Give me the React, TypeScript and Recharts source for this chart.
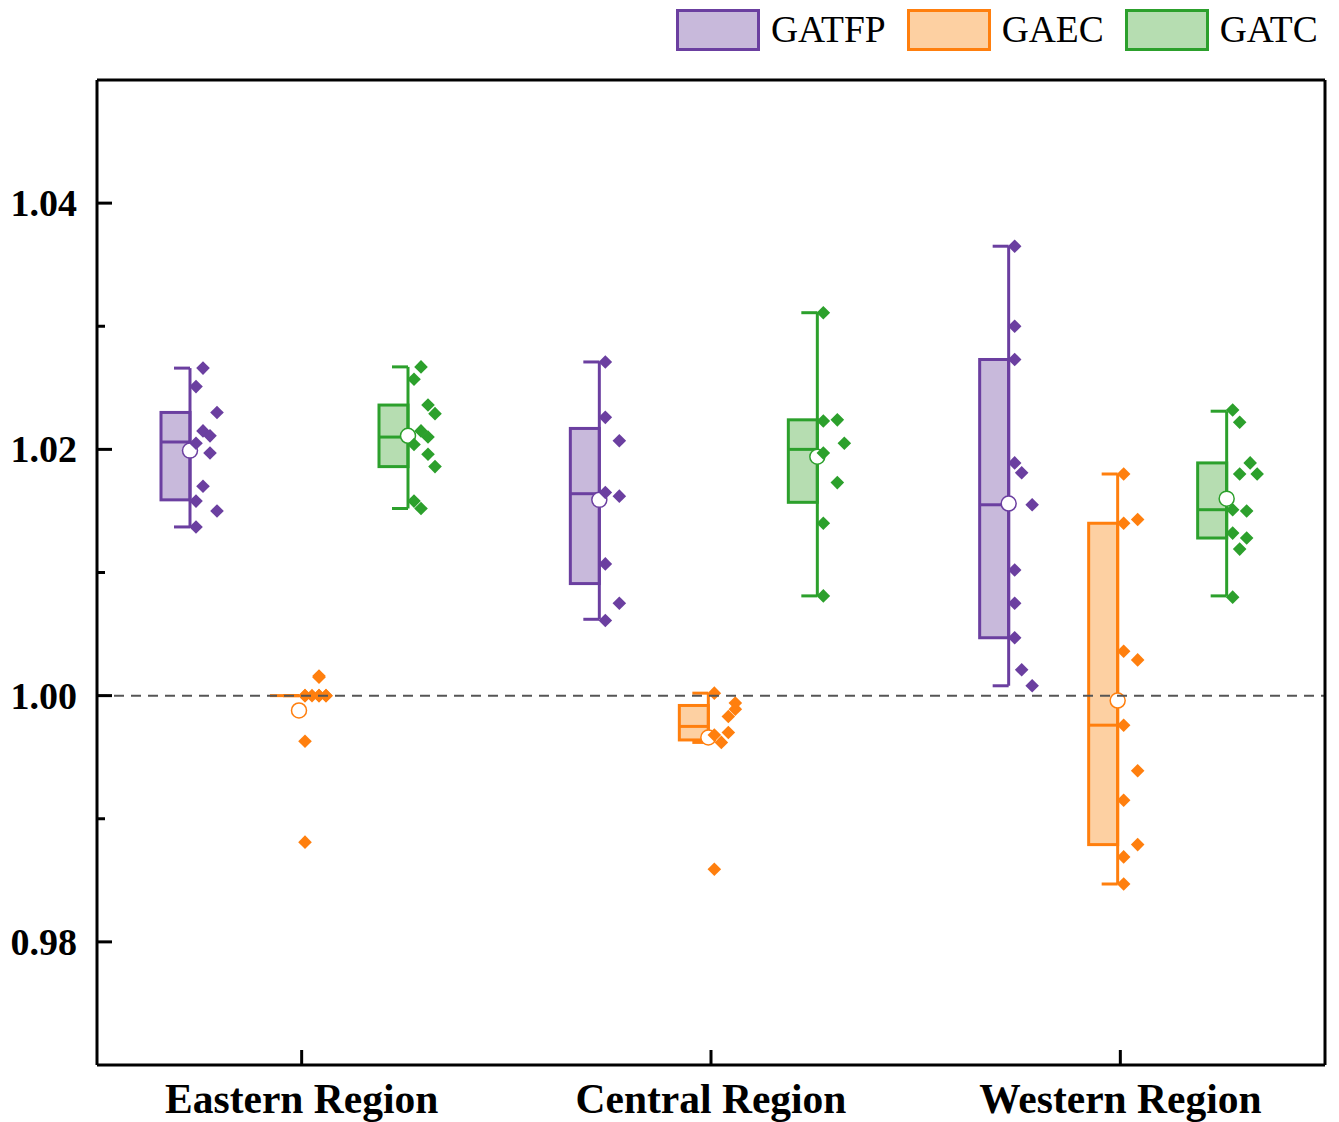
import React from 'react';
import { ComposedChart, Bar, XAxis, YAxis, ReferenceLine, Legend } from 'recharts';

const REGIONS = ['Eastern Region', 'Central Region', 'Western Region'];
const SERIES = ['GATFP', 'GAEC', 'GATC'];
const Y_TICKS = [0.98, 0.99, 1.0, 1.01, 1.02, 1.03, 1.04];

// box statistics per region: [min, q1, median, q3, max]
const GATFP_BOX = [
  [1.0137, 1.0159, 1.0206, 1.023, 1.0266],
  [1.0062, 1.0091, 1.0164, 1.0217, 1.0271],
  [1.0008, 1.0047, 1.0155, 1.0273, 1.0365],
];
const GAEC_BOX = [
  [1.0, 1.0, 1.0, 1.0, 1.0],
  [0.9962, 0.9964, 0.9975, 0.9992, 1.0002],
  [0.9847, 0.9879, 0.9976, 1.014, 1.018],
];
const GATC_BOX = [
  [1.0152, 1.0186, 1.021, 1.0236, 1.0267],
  [1.0081, 1.0157, 1.02, 1.0224, 1.0311],
  [1.0081, 1.0128, 1.0151, 1.0189, 1.0231],
];

const GATFP_MEAN = [1.0199, 1.0159, 1.0156];
const GAEC_MEAN = [0.9988, 0.9966, 0.9996];
const GATC_MEAN = [1.0211, 1.0194, 1.016];

// raw points per region
const GATFP_POINTS = [
  [1.0266, 1.0251, 1.023, 1.0215, 1.0211, 1.0205, 1.0197, 1.017, 1.0158, 1.015, 1.0137],
  [1.0271, 1.0226, 1.0207, 1.0165, 1.0162, 1.0107, 1.0075, 1.0061],
  [1.0365, 1.03, 1.0273, 1.0189, 1.0181, 1.0155, 1.0102, 1.0075, 1.0047, 1.0021, 1.0008],
];
const GATFP_LANES = [
  [1, 0, 3, 1, 2, 0, 2, 1, 0, 3, 0],
  [0, 0, 2, 0, 2, 0, 2, 0],
  [0, 0, 0, 0, 1, 2.5, 0, 0, 0, 1, 2.5],
];
const GAEC_POINTS = [
  [1.0016, 1.0015, 1.0, 1.0, 1.0, 1.0, 1.0, 1.0, 1.0, 0.9963, 0.9881],
  [1.0002, 0.9994, 0.9989, 0.9983, 0.997, 0.9968, 0.9962, 0.9859],
  [1.018, 1.014, 1.0143, 1.0036, 1.0029, 0.9976, 0.9939, 0.9915, 0.9879, 0.9869, 0.9847],
];
const GAEC_LANES = [
  [2, 2, 0, 1, 2, 3, 0, 2, 3, 0, 0],
  [0, 3, 3, 2, 2, 0, 1, 0],
  [0, 0, 2, 0, 2, 0, 2, 0, 2, 0, 0],
];
const GATC_POINTS = [
  [1.0267, 1.0257, 1.0236, 1.0229, 1.0215, 1.021, 1.0204, 1.0196, 1.0186, 1.0158, 1.0152],
  [1.0311, 1.0223, 1.0224, 1.0205, 1.0197, 1.0173, 1.014, 1.0081],
  [1.0232, 1.0222, 1.0189, 1.018, 1.018, 1.0151, 1.015, 1.0132, 1.0128, 1.0119, 1.008],
];
const GATC_LANES = [
  [1, 0, 2, 3, 1, 2, 0, 2, 3, 0, 1],
  [0, 0, 2, 3, 0, 2, 0, 0],
  [0, 1, 2.5, 1, 3.5, 0, 2, 0, 2, 1, 0],
];

const BOXES: Record<string, number[][]> = { GATFP: GATFP_BOX, GAEC: GAEC_BOX, GATC: GATC_BOX };
const MEANS: Record<string, number[]> = { GATFP: GATFP_MEAN, GAEC: GAEC_MEAN, GATC: GATC_MEAN };
const POINTS: Record<string, number[][]> = { GATFP: GATFP_POINTS, GAEC: GAEC_POINTS, GATC: GATC_POINTS };
const LANES: Record<string, number[][]> = { GATFP: GATFP_LANES, GAEC: GAEC_LANES, GATC: GATC_LANES };

const EDGE: Record<string, string> = { GATFP: '#6B3FA0', GAEC: '#FF7F0E', GATC: '#2CA02C' };
const FILL: Record<string, string> = { GATFP: '#C8B9DB', GAEC: '#FDD0A2', GATC: '#B6DDB1' };

const FONT = "'Liberation Serif', 'Times New Roman', serif";

const data = REGIONS.map((region, i) => {
  const row: any = { region };
  SERIES.forEach((s) => {
    const vals = [...BOXES[s][i], ...POINTS[s][i], MEANS[s][i]];
    row[s] = [Math.min(...vals), Math.max(...vals)];
  });
  return row;
});

function makeShape(series: string) {
  return (props: any) => {
    const { x, y, width, height, payload } = props;
    const i = REGIONS.indexOf(payload.region);
    const [lo, hi] = payload[series];
    const top = Math.min(y, y + height);
    const bot = Math.max(y, y + height);
    const toPx = (v: number) => (hi === lo ? top : top + ((hi - v) / (hi - lo)) * (bot - top));
    const wx = x + width / 2 - 3;
    const [mn, q1, md, q3, mx] = BOXES[series][i];
    const edge = EDGE[series];
    const boxW = 29;
    const pts = POINTS[series][i];
    const lanes = LANES[series][i];
    const r = 6.8;
    return (
      <g>
        <rect
          x={wx - boxW}
          y={toPx(q3)}
          width={boxW}
          height={Math.max(0, toPx(q1) - toPx(q3))}
          fill={FILL[series]}
          stroke={edge}
          strokeWidth={3}
        />
        <line x1={wx} x2={wx} y1={toPx(mx)} y2={toPx(mn)} stroke={edge} strokeWidth={3} />
        <line x1={wx - 16} x2={wx} y1={toPx(mx)} y2={toPx(mx)} stroke={edge} strokeWidth={3} />
        <line x1={wx - 16} x2={wx} y1={toPx(mn)} y2={toPx(mn)} stroke={edge} strokeWidth={3} />
        <line x1={wx - boxW} x2={wx} y1={toPx(md)} y2={toPx(md)} stroke={edge} strokeWidth={3} />
        <circle cx={wx} cy={toPx(MEANS[series][i])} r={7.5} fill="#fff" stroke={edge} strokeWidth={1.5} />
        {pts.map((v, k) => {
          const cx = wx + 6 + 7 * lanes[k];
          const cy = toPx(v);
          return (
            <polygon
              key={k}
              points={`${cx},${cy - r} ${cx + r},${cy} ${cx},${cy + r} ${cx - r},${cy}`}
              fill={edge}
            />
          );
        })}
      </g>
    );
  };
}

const YTick = (props: any) => {
  const { x, y, payload } = props;
  const v = payload.value;
  const major = Math.round(v * 100) % 2 === 0;
  return (
    <g>
      <line x1={x} x2={x + (major ? 15 : 8)} y1={y} y2={y} stroke="#000" strokeWidth={3} />
      {major && (
        <text x={x - 20} y={y + 13} textAnchor="end" fontFamily={FONT} fontWeight="bold" fontSize={38} fill="#000">
          {v.toFixed(2)}
        </text>
      )}
    </g>
  );
};

const XTick = (props: any) => {
  const { x, y, payload } = props;
  return (
    <g>
      <line x1={x} x2={x} y1={y} y2={y - 15} stroke="#000" strokeWidth={3} />
      <text x={x} y={y + 48} textAnchor="middle" fontFamily={FONT} fontWeight="bold" fontSize={41.5} fill="#000">
        {payload.value}
      </text>
    </g>
  );
};

const renderLegend = () => (
  <div style={{ display: 'flex', alignItems: 'center', fontFamily: FONT }}>
    {SERIES.map((s) => (
      <div key={s} style={{ display: 'flex', alignItems: 'center', marginRight: 21 }}>
        <div
          style={{
            width: 84,
            height: 42,
            boxSizing: 'border-box',
            border: `3px solid ${EDGE[s]}`,
            background: FILL[s],
          }}
        />
        <span style={{ marginLeft: 11, fontSize: 37.5, lineHeight: '42px', color: '#000' }}>{s}</span>
      </div>
    ))}
  </div>
);

export default function App() {
  return (
    <div style={{ width: 1339, height: 1122, background: '#fff' }}>
      <style>{'body{margin:0;background:#fff;}'}</style>
      <ComposedChart
        width={1339}
        height={1122}
        data={data}
        margin={{ top: 79, right: 13, bottom: 0, left: 0 }}
        barSize={60}
        barGap={49}
      >
        <XAxis
          dataKey="region"
          height={57}
          axisLine={{ stroke: '#000', strokeWidth: 3 }}
          tickLine={false}
          tickSize={0}
          tickMargin={0}
          interval={0}
          tick={<XTick />}
        />
        <XAxis
          xAxisId="top"
          orientation="top"
          dataKey="region"
          height={1}
          axisLine={{ stroke: '#000', strokeWidth: 3 }}
          tick={false}
          tickLine={false}
        />
        <YAxis
          type="number"
          domain={[0.97, 1.05]}
          ticks={Y_TICKS}
          allowDataOverflow
          width={97}
          axisLine={{ stroke: '#000', strokeWidth: 3 }}
          tickLine={false}
          tickSize={0}
          tickMargin={0}
          interval={0}
          tick={<YTick />}
        />
        <YAxis
          yAxisId="right"
          orientation="right"
          type="number"
          domain={[0.97, 1.05]}
          width={1}
          axisLine={{ stroke: '#000', strokeWidth: 3 }}
          tick={false}
          tickLine={false}
        />
        <ReferenceLine y={1} stroke="#555" strokeWidth={2} strokeDasharray="10 7" />
        {SERIES.map((s) => (
          <Bar key={s} dataKey={s} isAnimationActive={false} shape={makeShape(s)} />
        ))}
        <Legend
          layout="horizontal"
          verticalAlign="middle"
          align="center"
          content={renderLegend}
          wrapperStyle={{ top: 9, left: 676, width: 'auto', height: 'auto' }}
        />
      </ComposedChart>
    </div>
  );
}
